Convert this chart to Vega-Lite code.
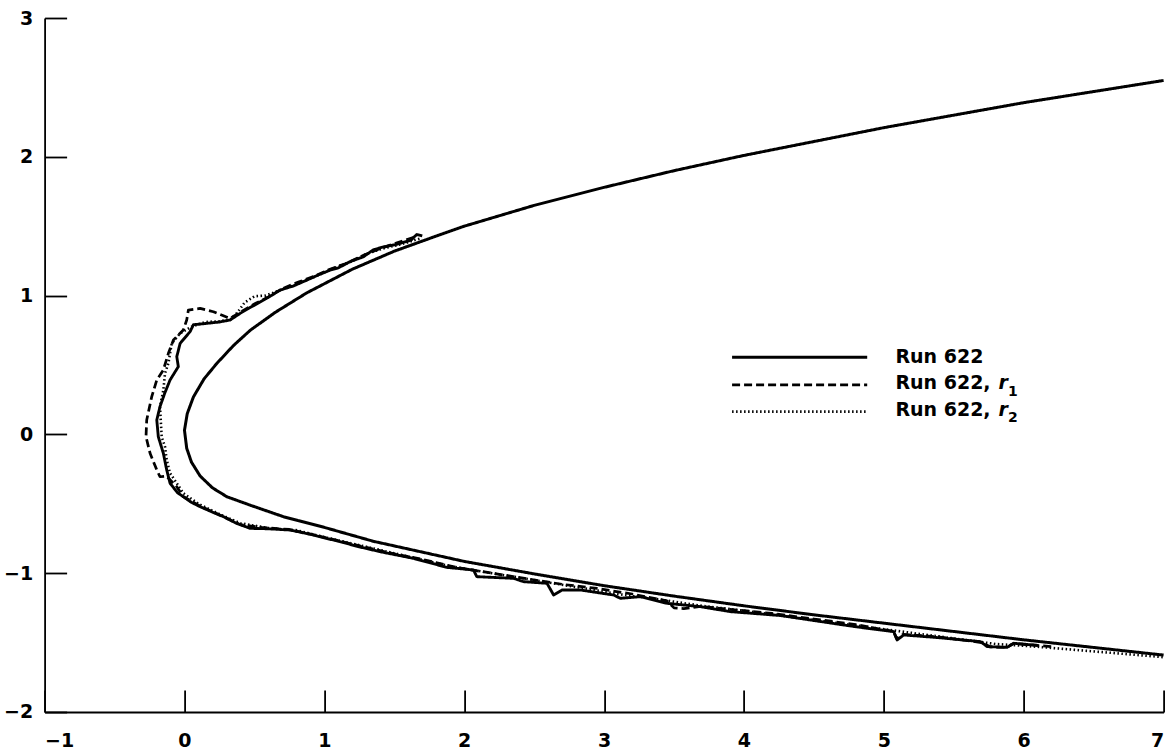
{
  "$schema": "https://vega.github.io/schema/vega-lite/v6.json",
  "width": 1119,
  "height": 694,
  "autosize": {"type": "none"},
  "padding": {"left": 44.6, "top": 18, "right": 10, "bottom": 41},
  "background": "white",
  "config": {
    "view": {"stroke": null},
    "axis": {
      "grid": false,
      "domainColor": "black",
      "tickColor": "black",
      "labelColor": "black",
      "labelFont": "DejaVu Sans",
      "labelFontWeight": "bold",
      "labelFontSize": 19,
      "tickSize": -22,
      "domainWidth": 1.8,
      "tickWidth": 1.8
    }
  },
  "datasets": {
    "curves": [
      {"s": "fit", "x": 7, "y": 2.55}, {"s": "fit", "x": 6.5, "y": 2.47}, {"s": "fit", "x": 6, "y": 2.39}, {"s": "fit", "x": 5.5, "y": 2.3}, {"s": "fit", "x": 5, "y": 2.21}, {"s": "fit", "x": 4.5, "y": 2.11}, {"s": "fit", "x": 4, "y": 2.01}, {"s": "fit", "x": 3.5, "y": 1.9}, {"s": "fit", "x": 3, "y": 1.78}, {"s": "fit", "x": 2.5, "y": 1.65}, {"s": "fit", "x": 2, "y": 1.5}, {"s": "fit", "x": 1.83, "y": 1.44}, {"s": "fit", "x": 1.5, "y": 1.32}, {"s": "fit", "x": 1.2, "y": 1.19}, {"s": "fit", "x": 0.875, "y": 1.02}, {"s": "fit", "x": 0.65, "y": 0.88}, {"s": "fit", "x": 0.47, "y": 0.75}, {"s": "fit", "x": 0.35, "y": 0.64}, {"s": "fit", "x": 0.23, "y": 0.51}, {"s": "fit", "x": 0.14, "y": 0.4}, {"s": "fit", "x": 0.064, "y": 0.27}, {"s": "fit", "x": 0.02, "y": 0.15}, {"s": "fit", "x": 0, "y": 0.03}, {"s": "fit", "x": 0.016, "y": -0.1}, {"s": "fit", "x": 0.05, "y": -0.2}, {"s": "fit", "x": 0.112, "y": -0.3}, {"s": "fit", "x": 0.2, "y": -0.385}, {"s": "fit", "x": 0.303, "y": -0.449}, {"s": "fit", "x": 0.47, "y": -0.51}, {"s": "fit", "x": 0.708, "y": -0.593}, {"s": "fit", "x": 1.0, "y": -0.67}, {"s": "fit", "x": 1.35, "y": -0.77}, {"s": "fit", "x": 2, "y": -0.915}, {"s": "fit", "x": 2.5, "y": -1.005}, {"s": "fit", "x": 3, "y": -1.09}, {"s": "fit", "x": 3.5, "y": -1.165}, {"s": "fit", "x": 4, "y": -1.235}, {"s": "fit", "x": 4.5, "y": -1.3}, {"s": "fit", "x": 5, "y": -1.36}, {"s": "fit", "x": 5.5, "y": -1.42}, {"s": "fit", "x": 6, "y": -1.48}, {"s": "fit", "x": 6.5, "y": -1.535}, {"s": "fit", "x": 7, "y": -1.59},

      {"s": "run", "x": 1.7, "y": 1.43}, {"s": "run", "x": 1.66, "y": 1.44}, {"s": "run", "x": 1.62, "y": 1.4}, {"s": "run", "x": 1.52, "y": 1.37}, {"s": "run", "x": 1.42, "y": 1.35}, {"s": "run", "x": 1.35, "y": 1.33}, {"s": "run", "x": 1.28, "y": 1.28}, {"s": "run", "x": 1.185, "y": 1.245}, {"s": "run", "x": 1.1, "y": 1.2}, {"s": "run", "x": 1.042, "y": 1.184}, {"s": "run", "x": 0.96, "y": 1.15}, {"s": "run", "x": 0.875, "y": 1.112}, {"s": "run", "x": 0.78, "y": 1.07}, {"s": "run", "x": 0.684, "y": 1.04}, {"s": "run", "x": 0.62, "y": 1.0}, {"s": "run", "x": 0.565, "y": 0.968}, {"s": "run", "x": 0.48, "y": 0.92}, {"s": "run", "x": 0.398, "y": 0.872}, {"s": "run", "x": 0.326, "y": 0.824}, {"s": "run", "x": 0.25, "y": 0.81}, {"s": "run", "x": 0.16, "y": 0.8}, {"s": "run", "x": 0.064, "y": 0.79}, {"s": "run", "x": 0.04, "y": 0.74}, {"s": "run", "x": -0.031, "y": 0.656}, {"s": "run", "x": -0.055, "y": 0.56}, {"s": "run", "x": -0.044, "y": 0.488}, {"s": "run", "x": -0.103, "y": 0.392}, {"s": "run", "x": -0.14, "y": 0.3}, {"s": "run", "x": -0.175, "y": 0.2}, {"s": "run", "x": -0.198, "y": 0.104}, {"s": "run", "x": -0.187, "y": -0.017}, {"s": "run", "x": -0.151, "y": -0.136}, {"s": "run", "x": -0.127, "y": -0.256}, {"s": "run", "x": -0.103, "y": -0.352}, {"s": "run", "x": -0.05, "y": -0.42}, {"s": "run", "x": -0.008, "y": -0.449}, {"s": "run", "x": 0.05, "y": -0.49}, {"s": "run", "x": 0.112, "y": -0.521}, {"s": "run", "x": 0.2, "y": -0.56}, {"s": "run", "x": 0.279, "y": -0.593}, {"s": "run", "x": 0.37, "y": -0.64}, {"s": "run", "x": 0.47, "y": -0.677}, {"s": "run", "x": 0.6, "y": -0.68}, {"s": "run", "x": 0.755, "y": -0.689}, {"s": "run", "x": 0.9, "y": -0.72}, {"s": "run", "x": 1.1, "y": -0.77}, {"s": "run", "x": 1.25, "y": -0.81}, {"s": "run", "x": 1.398, "y": -0.845}, {"s": "run", "x": 1.637, "y": -0.893}, {"s": "run", "x": 1.876, "y": -0.958}, {"s": "run", "x": 2.066, "y": -0.977}, {"s": "run", "x": 2.09, "y": -1.025}, {"s": "run", "x": 2.2, "y": -1.03}, {"s": "run", "x": 2.353, "y": -1.037}, {"s": "run", "x": 2.424, "y": -1.061}, {"s": "run", "x": 2.592, "y": -1.073}, {"s": "run", "x": 2.639, "y": -1.157}, {"s": "run", "x": 2.699, "y": -1.121}, {"s": "run", "x": 2.83, "y": -1.121}, {"s": "run", "x": 3.068, "y": -1.157}, {"s": "run", "x": 3.116, "y": -1.181}, {"s": "run", "x": 3.259, "y": -1.169}, {"s": "run", "x": 3.45, "y": -1.217}, {"s": "run", "x": 3.688, "y": -1.241}, {"s": "run", "x": 3.903, "y": -1.277}, {"s": "run", "x": 4.261, "y": -1.305}, {"s": "run", "x": 4.713, "y": -1.373}, {"s": "run", "x": 4.88, "y": -1.397}, {"s": "run", "x": 5.071, "y": -1.421}, {"s": "run", "x": 5.095, "y": -1.481}, {"s": "run", "x": 5.142, "y": -1.445}, {"s": "run", "x": 5.4, "y": -1.465}, {"s": "run", "x": 5.691, "y": -1.493}, {"s": "run", "x": 5.739, "y": -1.529}, {"s": "run", "x": 5.882, "y": -1.534}, {"s": "run", "x": 5.929, "y": -1.505}, {"s": "run", "x": 6.1, "y": -1.52},

      {"s": "r1", "x": 1.64, "y": 1.42}, {"s": "r1", "x": 1.52, "y": 1.38}, {"s": "r1", "x": 1.4, "y": 1.34}, {"s": "r1", "x": 1.28, "y": 1.29}, {"s": "r1", "x": 1.15, "y": 1.23}, {"s": "r1", "x": 1.04, "y": 1.19}, {"s": "r1", "x": 0.93, "y": 1.14}, {"s": "r1", "x": 0.82, "y": 1.1}, {"s": "r1", "x": 0.7, "y": 1.05}, {"s": "r1", "x": 0.6, "y": 0.99}, {"s": "r1", "x": 0.5, "y": 0.94}, {"s": "r1", "x": 0.4, "y": 0.88}, {"s": "r1", "x": 0.326, "y": 0.836}, {"s": "r1", "x": 0.207, "y": 0.884}, {"s": "r1", "x": 0.112, "y": 0.908}, {"s": "r1", "x": 0.028, "y": 0.896}, {"s": "r1", "x": 0.016, "y": 0.824}, {"s": "r1", "x": -0.008, "y": 0.752}, {"s": "r1", "x": -0.079, "y": 0.68}, {"s": "r1", "x": -0.115, "y": 0.584}, {"s": "r1", "x": -0.151, "y": 0.464}, {"s": "r1", "x": -0.198, "y": 0.392}, {"s": "r1", "x": -0.234, "y": 0.272}, {"s": "r1", "x": -0.27, "y": 0.104}, {"s": "r1", "x": -0.275, "y": -0.017}, {"s": "r1", "x": -0.246, "y": -0.136}, {"s": "r1", "x": -0.198, "y": -0.256}, {"s": "r1", "x": -0.175, "y": -0.305}, {"s": "r1", "x": -0.13, "y": -0.3}, {"s": "r1", "x": -0.055, "y": -0.377}, {"s": "r1", "x": -0.008, "y": -0.449}, {"s": "r1", "x": 0.1, "y": -0.51}, {"s": "r1", "x": 0.25, "y": -0.58}, {"s": "r1", "x": 0.4, "y": -0.65}, {"s": "r1", "x": 0.55, "y": -0.67}, {"s": "r1", "x": 0.75, "y": -0.685}, {"s": "r1", "x": 0.95, "y": -0.73}, {"s": "r1", "x": 1.2, "y": -0.79}, {"s": "r1", "x": 1.45, "y": -0.85}, {"s": "r1", "x": 1.7, "y": -0.9}, {"s": "r1", "x": 1.95, "y": -0.96}, {"s": "r1", "x": 2.2, "y": -1.0}, {"s": "r1", "x": 2.45, "y": -1.04}, {"s": "r1", "x": 2.7, "y": -1.08}, {"s": "r1", "x": 2.95, "y": -1.11}, {"s": "r1", "x": 3.2, "y": -1.15}, {"s": "r1", "x": 3.45, "y": -1.2}, {"s": "r1", "x": 3.5, "y": -1.25}, {"s": "r1", "x": 3.57, "y": -1.255}, {"s": "r1", "x": 3.69, "y": -1.24}, {"s": "r1", "x": 3.9, "y": -1.26}, {"s": "r1", "x": 4.2, "y": -1.29}, {"s": "r1", "x": 4.5, "y": -1.33}, {"s": "r1", "x": 4.8, "y": -1.37}, {"s": "r1", "x": 5.07, "y": -1.42}, {"s": "r1", "x": 5.09, "y": -1.47}, {"s": "r1", "x": 5.14, "y": -1.44}, {"s": "r1", "x": 5.4, "y": -1.46}, {"s": "r1", "x": 5.7, "y": -1.5}, {"s": "r1", "x": 5.76, "y": -1.53}, {"s": "r1", "x": 5.88, "y": -1.535}, {"s": "r1", "x": 5.93, "y": -1.505}, {"s": "r1", "x": 6.2, "y": -1.53},

      {"s": "r2", "x": 1.68, "y": 1.41}, {"s": "r2", "x": 1.55, "y": 1.37}, {"s": "r2", "x": 1.42, "y": 1.34}, {"s": "r2", "x": 1.3, "y": 1.3}, {"s": "r2", "x": 1.18, "y": 1.24}, {"s": "r2", "x": 1.05, "y": 1.19}, {"s": "r2", "x": 0.92, "y": 1.13}, {"s": "r2", "x": 0.8, "y": 1.08}, {"s": "r2", "x": 0.684, "y": 1.04}, {"s": "r2", "x": 0.58, "y": 1.0}, {"s": "r2", "x": 0.5, "y": 0.995}, {"s": "r2", "x": 0.43, "y": 0.95}, {"s": "r2", "x": 0.38, "y": 0.88}, {"s": "r2", "x": 0.33, "y": 0.83}, {"s": "r2", "x": 0.25, "y": 0.815}, {"s": "r2", "x": 0.15, "y": 0.81}, {"s": "r2", "x": 0.052, "y": 0.776}, {"s": "r2", "x": -0.031, "y": 0.728}, {"s": "r2", "x": -0.091, "y": 0.656}, {"s": "r2", "x": -0.103, "y": 0.584}, {"s": "r2", "x": -0.115, "y": 0.512}, {"s": "r2", "x": -0.139, "y": 0.44}, {"s": "r2", "x": -0.151, "y": 0.32}, {"s": "r2", "x": -0.175, "y": 0.2}, {"s": "r2", "x": -0.163, "y": -0.017}, {"s": "r2", "x": -0.139, "y": -0.089}, {"s": "r2", "x": -0.127, "y": -0.184}, {"s": "r2", "x": -0.103, "y": -0.28}, {"s": "r2", "x": -0.055, "y": -0.352}, {"s": "r2", "x": -0.008, "y": -0.424}, {"s": "r2", "x": 0.1, "y": -0.5}, {"s": "r2", "x": 0.25, "y": -0.575}, {"s": "r2", "x": 0.4, "y": -0.64}, {"s": "r2", "x": 0.6, "y": -0.675}, {"s": "r2", "x": 0.8, "y": -0.69}, {"s": "r2", "x": 1.0, "y": -0.74}, {"s": "r2", "x": 1.3, "y": -0.81}, {"s": "r2", "x": 1.6, "y": -0.88}, {"s": "r2", "x": 1.9, "y": -0.95}, {"s": "r2", "x": 2.2, "y": -1.0}, {"s": "r2", "x": 2.5, "y": -1.05}, {"s": "r2", "x": 2.8, "y": -1.1}, {"s": "r2", "x": 3.1, "y": -1.15}, {"s": "r2", "x": 3.4, "y": -1.19}, {"s": "r2", "x": 3.7, "y": -1.235}, {"s": "r2", "x": 4.0, "y": -1.27}, {"s": "r2", "x": 4.3, "y": -1.31}, {"s": "r2", "x": 4.6, "y": -1.35}, {"s": "r2", "x": 4.9, "y": -1.39}, {"s": "r2", "x": 5.2, "y": -1.43}, {"s": "r2", "x": 5.5, "y": -1.47}, {"s": "r2", "x": 5.8, "y": -1.51}, {"s": "r2", "x": 6.1, "y": -1.53}, {"s": "r2", "x": 6.4, "y": -1.555}, {"s": "r2", "x": 6.7, "y": -1.58}, {"s": "r2", "x": 7.0, "y": -1.605}
    ],
    "legendLines": [
      {"s": "fit", "x": 3.915, "x2": 4.881, "y": 0.555},
      {"s": "r1", "x": 3.915, "x2": 4.881, "y": 0.356},
      {"s": "r2", "x": 3.915, "x2": 4.881, "y": 0.164}
    ],
    "legendText": [
      {"x": 5.083, "y": 0.561, "t": "Run 622"},
      {"x": 5.083, "y": 0.367, "t": "Run 622,"},
      {"x": 5.083, "y": 0.174, "t": "Run 622,"}
    ],
    "legendItalic": [
      {"x": 5.82, "y": 0.367, "t": "r"},
      {"x": 5.82, "y": 0.174, "t": "r"}
    ],
    "legendSub": [
      {"x": 5.887, "y": 0.309, "t": "1"},
      {"x": 5.887, "y": 0.118, "t": "2"}
    ]
  },
  "layer": [
    {
      "data": {"name": "curves"},
      "mark": {"type": "line", "color": "black", "strokeJoin": "round", "strokeCap": "butt"},
      "encoding": {
        "x": {"field": "x", "type": "quantitative", "scale": {"domain": [-1, 7], "nice": false, "zero": false},
              "axis": {"values": [-1, 0, 1, 2, 3, 4, 5, 6, 7], "title": null, "labelPadding": 42, "format": "d"}},
        "y": {"field": "y", "type": "quantitative", "scale": {"domain": [-2, 3], "nice": false, "zero": false},
              "axis": {"values": [-2, -1, 0, 1, 2, 3], "title": null, "labelPadding": 34, "format": "d"}},
        "detail": {"field": "s"},
        "strokeDash": {"field": "s", "type": "nominal", "legend": null,
                       "scale": {"domain": ["fit", "run", "r1", "r2"], "range": [[1, 0], [1, 0], [8, 4], [1.5, 2.5]]}},
        "strokeWidth": {"field": "s", "type": "nominal", "legend": null,
                        "scale": {"domain": ["fit", "run", "r1", "r2"], "range": [3, 2.6, 2.6, 2.2]}},
        "order": {"value": null}
      }
    },
    {
      "data": {"name": "legendLines"},
      "mark": {"type": "rule", "color": "black"},
      "encoding": {
        "x": {"field": "x", "type": "quantitative"},
        "x2": {"field": "x2"},
        "y": {"field": "y", "type": "quantitative"},
        "strokeDash": {"field": "s", "type": "nominal", "legend": null},
        "strokeWidth": {"field": "s", "type": "nominal", "legend": null}
      }
    },
    {
      "data": {"name": "legendText"},
      "mark": {"type": "text", "align": "left", "baseline": "middle", "font": "DejaVu Sans", "fontWeight": "bold", "fontSize": 19, "color": "black"},
      "encoding": {
        "x": {"field": "x", "type": "quantitative"},
        "y": {"field": "y", "type": "quantitative"},
        "text": {"field": "t"}
      }
    },
    {
      "data": {"name": "legendItalic"},
      "mark": {"type": "text", "align": "left", "baseline": "middle", "font": "DejaVu Sans", "fontWeight": "bold", "fontStyle": "italic", "fontSize": 19, "color": "black"},
      "encoding": {
        "x": {"field": "x", "type": "quantitative"},
        "y": {"field": "y", "type": "quantitative"},
        "text": {"field": "t"}
      }
    },
    {
      "data": {"name": "legendSub"},
      "mark": {"type": "text", "align": "left", "baseline": "middle", "font": "DejaVu Sans", "fontWeight": "bold", "fontSize": 14, "color": "black"},
      "encoding": {
        "x": {"field": "x", "type": "quantitative"},
        "y": {"field": "y", "type": "quantitative"},
        "text": {"field": "t"}
      }
    }
  ]
}
